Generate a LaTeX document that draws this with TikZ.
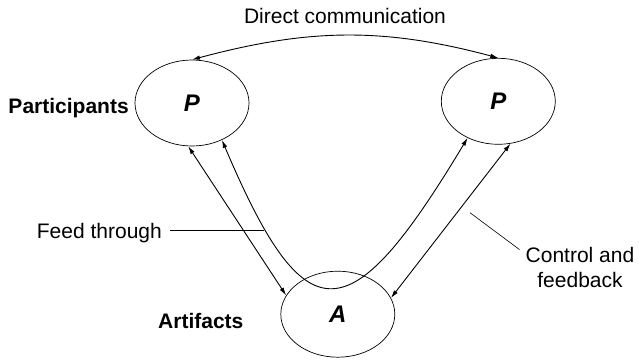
\documentclass[tikz,border=0pt]{standalone}
\usepackage{fontspec}
\setmainfont{Liberation Sans}
\usetikzlibrary{arrows.meta,shapes.geometric}
\begin{document}
\begin{tikzpicture}[x=1pt,y=1pt,
  >={Latex[length=8pt,width=4.6pt]},
  every node/.style={inner sep=0pt, font=\fontsize{21}{25}\selectfont},
  blob/.style={draw, ellipse, minimum width=114pt, minimum height=86pt,
    line width=0.7pt, font=\fontsize{24}{24}\selectfont\bfseries\itshape},
  link/.style={<->, line width=0.9pt},
  leader/.style={line width=0.6pt},
  tag/.style={font=\fontsize{21}{25}\selectfont\bfseries}]
\useasboundingbox (0,0) rectangle (639,-359);

% the three actors
\node[blob] (L) at (192,-103)   {P};
\node[blob] (R) at (498.3,-101.3) {P};
\node[blob] (A) at (337.8,-314.2) {A};

% labels
\node[anchor=base] (dc) at (345,-23.3) {Direct communication};
\node[tag, anchor=base west] (part) at (8.3,-113) {Participants};
\node[tag, anchor=base west] (art) at (158,-328) {Artifacts};
\node[anchor=base west] (ft) at (36.7,-238) {Feed through};
\node[anchor=base, align=center] (cf) at (580,-287) {Control and\\feedback};

% connectors
\draw[link] (L.north) to[out=15, in=165] (R.north);
\draw[link] (L.-95.7) -- (A.160);
\draw[link] (R.-74) -- (A.17);
\draw[link] (L.-51) to[out=-67, in=-121, out distance=215pt, in distance=230pt] (R.-130);

% leader lines
\coordinate (ftend) at (264,-230.5);
\draw[leader, shorten >=8pt] (ftend) -- (ftend -| ft.east);
\coordinate (cfa) at (470,-212.7);
\draw[leader] (cfa) -- ([xshift=-6pt,yshift=-3pt]cf.north west);
\end{tikzpicture}
\end{document}
